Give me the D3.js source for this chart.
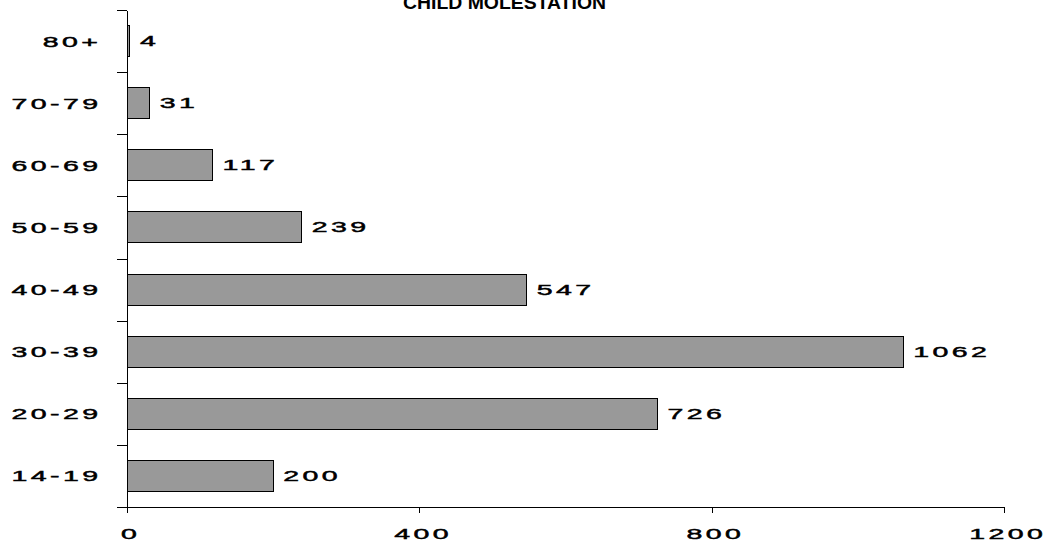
<!DOCTYPE html>
<html>
<head>
<meta charset="utf-8">
<script src="https://cdn.jsdelivr.net/npm/d3@7"></script>
<style>
  html, body { margin: 0; padding: 0; background: #fff; }
  svg { display: block; }
  .lbl { font-family: "Liberation Sans", Arial, sans-serif; font-weight: normal; font-size: 15px; fill: #000; stroke: #000; stroke-width: 0.45px; letter-spacing: 1.8px; }
  .title { font-family: "Liberation Sans", Arial, sans-serif; font-weight: bold; font-size: 19px; fill: #000; }
</style>
</head>
<body>
<script>
// Age groups of offenders, bottom to top
const ageGroups = ["14-19", "20-29", "30-39", "40-49", "50-59", "60-69", "70-79", "80+"];
const counts = [200, 726, 1062, 547, 239, 117, 31, 4];
const xTicks = [0, 400, 800, 1200];
const chartTitle = "CHILD MOLESTATION";

const W = 1057, H = 542;
const plotLeft = 127, plotRight = 1004, plotTop = 10, plotBottom = 507;
const stretch = 1.9;   // wide lettering
const spacing = 1.8;   // letter-spacing before stretch

const svg = d3.select("body").append("svg").attr("width", W).attr("height", H);

const x = d3.scaleLinear().domain([0, 1200]).range([plotLeft, plotRight]);
const y = d3.scaleBand().domain(ageGroups.slice().reverse()).range([plotTop, plotBottom])
  .paddingInner(0.5).paddingOuter(0.25);

// wide text helper: anchor point, then horizontal stretch
function wideText(sel, tx, ty, str, anchor) {
  const g = sel.append("g").attr("transform", `translate(${tx},${ty}) scale(${stretch},1)`);
  g.append("text").attr("class", "lbl").attr("text-anchor", anchor).text(str);
  return g;
}

// title
svg.append("text").attr("class", "title").attr("x", 403).attr("y", 9)
  .attr("textLength", 203).attr("lengthAdjust", "spacingAndGlyphs")
  .text(chartTitle);

// bars
svg.append("g").selectAll("rect").data(ageGroups).join("rect")
  .attr("x", x(0))
  .attr("y", d => y(d))
  .attr("width", (d, i) => x(counts[i]) - x(0))
  .attr("height", y.bandwidth())
  .attr("fill", "#999999")
  .attr("stroke", "#000")
  .attr("stroke-width", 1)
  .attr("shape-rendering", "crispEdges");

// value labels
ageGroups.forEach((d, i) => {
  wideText(svg, x(counts[i]) + 10, y(d) + y.bandwidth() / 2 + 5, String(counts[i]), "start");
});

// y axis: boundary ticks between bands
const yEdges = d3.scaleLinear().domain([0, ageGroups.length]).range([plotBottom, plotTop]);
const yAxis = svg.append("g").attr("transform", `translate(${plotLeft},0)`)
  .call(d3.axisLeft(yEdges).tickValues(d3.range(ageGroups.length + 1)).tickFormat("").tickSize(10).tickSizeOuter(0));
yAxis.selectAll("path, line").attr("stroke", "#000").attr("shape-rendering", "crispEdges");

// category labels
ageGroups.forEach(d => {
  wideText(svg, 98 + spacing * stretch, y(d) + y.bandwidth() / 2 + 5.5, d, "end");
});

// x axis
const xAxis = svg.append("g").attr("transform", `translate(0,${plotBottom})`)
  .call(d3.axisBottom(x).tickValues(xTicks).tickFormat("").tickSize(6).tickSizeOuter(0));
xAxis.selectAll("path, line").attr("stroke", "#000").attr("shape-rendering", "crispEdges");

xTicks.forEach(v => {
  wideText(svg, x(v) + spacing * stretch / 2 + 2, 539, String(v), "middle");
});
</script>
</body>
</html>
